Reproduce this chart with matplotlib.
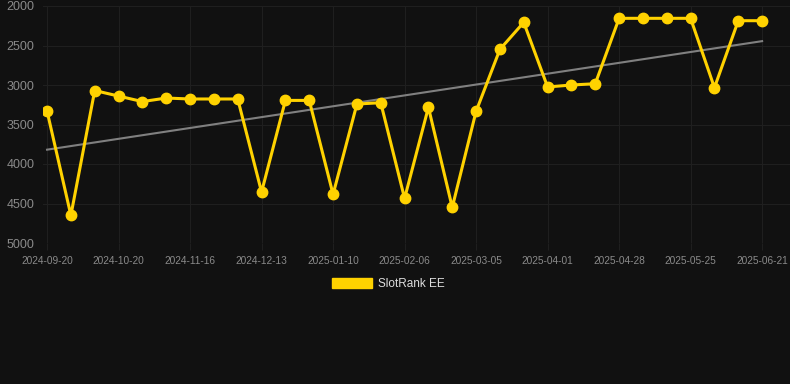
import matplotlib.pyplot as plt
import numpy as np
from matplotlib.patches import Patch

# data (rank, lower is better)
dates = ['2024-09-20', '2024-09-30', '2024-10-10',
         '2024-10-20', '2024-10-29', '2024-11-07',
         '2024-11-16', '2024-11-25', '2024-12-04',
         '2024-12-13', '2024-12-22', '2024-12-31',
         '2025-01-10', '2025-01-19', '2025-01-28',
         '2025-02-06', '2025-02-15', '2025-02-24',
         '2025-03-05', '2025-03-14', '2025-03-23',
         '2025-04-01', '2025-04-10', '2025-04-19',
         '2025-04-28', '2025-05-07', '2025-05-16',
         '2025-05-25', '2025-06-03', '2025-06-12',
         '2025-06-21']
rank = [3330, 4650, 3070, 3140, 3210, 3165, 3177, 3177, 3177,
        4355, 3195, 3195, 4384, 3241, 3224, 4435, 3283, 4549,
        3333, 2549, 2207, 3025, 3000, 2984, 2156, 2156, 2156,
        2156, 3034, 2186, 2186]
yticks = [2000, 2500, 3000, 3500, 4000, 4500, 5000]

bg = '#111111'
gold = '#FFD200'

plt.rcParams['font.family'] = ['Liberation Sans', 'DejaVu Sans']

fig = plt.figure(figsize=(7.9, 3.84), dpi=100, facecolor=bg)
ax = fig.add_axes([43 / 790, 1 - 243 / 384, (790 - 43) / 790, (243 - 6) / 384])
ax.set_facecolor(bg)

x = np.arange(len(rank))

# trend line (least squares)
k, b = np.polyfit(x, rank, 1)
ax.plot(x, k * x + b, color='#808080', lw=1.5, zorder=2)

ax.plot(x, rank, color=gold, lw=2.2, marker='o', markersize=7.5,
        markerfacecolor=gold, markeredgecolor=gold, zorder=3)

ax.set_ylim(5000, 2000)
ax.set_xlim(-0.17, len(rank) - 1 + 1.17)
ax.set_yticks(yticks)
ax.set_yticklabels([str(v) for v in yticks])
ax.set_xticks(x[::3])
ax.set_xticklabels(dates[::3])

ax.grid(True, color='#1f1f1f', lw=0.8)
ax.set_axisbelow(True)
for s in ax.spines.values():
    s.set_visible(False)
ax.tick_params(axis='y', length=0, pad=6, labelsize=9, labelcolor='#8a8a8a')
ax.tick_params(axis='x', length=5, color='#1f1f1f', pad=4, labelsize=7.3, labelcolor='#8a8a8a')

leg = fig.legend(handles=[Patch(facecolor=gold, edgecolor=gold, label='SlotRank EE')],
                 loc='center', bbox_to_anchor=(0.492, 1 - 284 / 384), frameon=False,
                 handlelength=3.4, handleheight=0.9, handletextpad=0.5, fontsize=8.5)
for t in leg.get_texts():
    t.set_color('#dddddd')

fig.savefig('out.png', dpi=100, facecolor=bg)
